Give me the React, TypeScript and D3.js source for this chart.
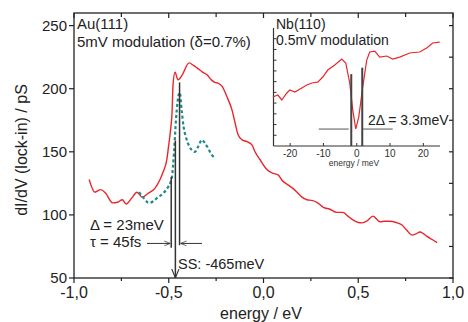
import * as d3 from "d3";

// main spectrum, Au(111), 5mV modulation
const auEnergy = [-0.92, -0.89, -0.86, -0.835, -0.795, -0.77, -0.745, -0.725, -0.695, -0.668, -0.64, -0.61, -0.573, -0.546, -0.53, -0.51, -0.503, -0.49, -0.483, -0.477, -0.467, -0.451, -0.437, -0.425, -0.393, -0.37, -0.351, -0.32, -0.298, -0.275, -0.256, -0.24, -0.219, -0.193, -0.166, -0.15, -0.134, -0.113, -0.087, -0.061, -0.045, -0.018, 0.018, 0.05, 0.077, 0.1, 0.129, 0.155, 0.177, 0.2, 0.229, 0.255, 0.282, 0.316, 0.35, 0.387, 0.419, 0.445, 0.472, 0.5, 0.519, 0.545, 0.578, 0.615, 0.64, 0.668, 0.7, 0.731, 0.755, 0.784, 0.805, 0.826, 0.845, 0.863, 0.89, 0.916];
const auSignal = [128, 118, 120, 117.5, 109.5, 110, 112, 108.7, 113.5, 118, 114, 117, 121, 128, 134, 144, 152, 168, 180, 204, 213, 207, 209, 212, 220.5, 218.5, 216.5, 213, 211, 207, 205, 204.5, 202, 193.7, 183, 173, 163.5, 159.5, 158, 155.5, 150, 143.7, 136, 133, 131.7, 127, 123.8, 121, 118, 114.5, 112, 111.5, 110, 106, 104.5, 102, 102, 99, 96, 94, 93.7, 95, 99, 94.6, 95, 95, 94, 92, 88, 84, 85, 86.5, 85, 83, 80.5, 78];

// dashed surface-state spectrum
const ssEnergy = [-0.657, -0.63, -0.605, -0.58, -0.557, -0.53, -0.504, -0.49, -0.483, -0.472, -0.462, -0.453, -0.442, -0.432, -0.422, -0.41, -0.39, -0.362, -0.345, -0.325, -0.31, -0.293, -0.275, -0.256];
const ssSignal = [118, 113, 109.5, 111, 114, 117, 122, 126, 130, 150, 175, 190, 197, 183, 170, 162, 154, 150, 154, 159.5, 157, 153, 148, 145];

// inset, Nb(110), arbitrary units
const nbEnergy = [-25.2, -23.7, -22.5, -21, -20.1, -18.6, -16.5, -15, -13.5, -11.7, -10.2, -8.7, -6.6, -4.5, -3.3, -2.1, -1.2, -0.3, 0.6, 1.8, 3, 3.9, 5.4, 6.9, 9, 10.8, 12.9, 15.9, 18.9, 21, 22.8, 24.9];
const nbSignal = [4.57, 4.75, 4.29, 4.94, 5.22, 5.03, 5.41, 5.68, 5.87, 5.96, 6.43, 7.08, 7.55, 8.11, 7.74, 5.87, 3.36, 1.6, 2.7, 5.5, 8.01, 8.76, 8.85, 8.29, 8.39, 8.11, 8.29, 8.67, 8.76, 9.13, 9.6, 9.69];

const xTicks = [-1, -0.5, 0, 0.5, 1];
const xTickLabels = ["-1,0", "-0,5", "0,0", "0,5", "1,0"];
const xMinor = [-0.75, -0.25, 0.25, 0.75];
const yTicks = [50, 100, 150, 200, 250];
const yRightTicks = [50, 75, 100, 125, 150, 175, 200, 225, 250];
const insetXTicks = [-20, -10, 0, 10, 20];
const insetYTicks = [1, 2, 3, 4, 5, 6, 7, 8, 9, 10];

// marker lines: [energy, top value, bottom value]
const gapLines: [number, number, number][] = [
  [-0.487, 130, 74],
  [-0.443, 205, 76],
];
const ssLine: [number, number] = [-0.465, 159];
const nbGap = [-1.65, 1.65];
const nbGapTop = [6.7, 7.3];

const FONT = "'Liberation Sans', Arial, sans-serif";
const RED = "#e8262c";
const TEAL = "#1d8a88";

export default function App() {
  const x = d3.scaleLinear().domain([-1, 1]).range([74, 453]);
  const y = d3.scaleLinear().domain([50, 260]).range([278, 13]);
  const ix = d3.scaleLinear().domain([-25, 25]).range([273.5, 440]);
  const iy = d3.scaleLinear().domain([0, 11]).range([146, 28]);

  const mainLine = d3
    .line<number>()
    .x((d) => x(d))
    .curve(d3.curveMonotoneX);
  const auPath = mainLine.y((_, i) => y(auSignal[i]))(auEnergy) ?? "";
  const ssPath = d3
    .line<number>()
    .x((d) => x(d))
    .y((_, i) => y(ssSignal[i]))
    .curve(d3.curveMonotoneX)(ssEnergy) ?? "";
  const nbPath = d3
    .line<number>()
    .x((d) => ix(d))
    .y((_, i) => iy(nbSignal[i]))(nbEnergy) ?? "";

  const arrowY = y(77.4);
  const nbArrowY = iy(1.58);

  return (
    <svg
      width={468}
      height={322}
      style={{ position: "absolute", left: 0, top: 0, background: "#fff" }}
      fontFamily={FONT}
    >
      <defs>
        <marker id="ah" viewBox="0 0 10 10" refX="10" refY="5" markerWidth="6" markerHeight="6" orient="auto-start-reverse">
          <path d="M0,1 L10,5 L0,9" fill="none" stroke="#333" strokeWidth="1.2" />
        </marker>
      </defs>

      {/* frame */}
      <rect x={74} y={13} width={379} height={265} fill="none" stroke="#222" strokeWidth={1.3} />

      {/* left ticks + labels */}
      {yTicks.map((t) => (
        <g key={"yl" + t}>
          <line x1={69} x2={74} y1={y(t)} y2={y(t)} stroke="#222" strokeWidth={1.2} />
          <text x={67} y={y(t)} dy="0.36em" textAnchor="end" fontSize={15} fill="#222">
            {t}
          </text>
        </g>
      ))}
      {/* right ticks */}
      {yRightTicks.map((t) => (
        <line key={"yr" + t} x1={449} x2={453} y1={y(t)} y2={y(t)} stroke="#222" strokeWidth={1.2} />
      ))}
      {/* bottom / top ticks */}
      {xTicks.map((t, i) => (
        <g key={"x" + t}>
          <line x1={x(t)} x2={x(t)} y1={278} y2={283} stroke="#222" strokeWidth={1.2} />
          <line x1={x(t)} x2={x(t)} y1={13} y2={18} stroke="#222" strokeWidth={1.2} />
          <text x={x(t)} y={298} textAnchor="middle" fontSize={16} fill="#222">
            {xTickLabels[i]}
          </text>
        </g>
      ))}
      {xMinor.map((t) => (
        <g key={"xm" + t}>
          <line x1={x(t)} x2={x(t)} y1={278} y2={281} stroke="#222" strokeWidth={1.2} />
          <line x1={x(t)} x2={x(t)} y1={13} y2={17} stroke="#222" strokeWidth={1.2} />
        </g>
      ))}

      <text x={261} y={319} textAnchor="middle" fontSize={16} fill="#222">
        energy / eV
      </text>
      <text transform="translate(27,150) rotate(-90)" textAnchor="middle" fontSize={16} fill="#222">
        dI/dV (lock-in) / pS
      </text>

      <text x={77} y={29} fontSize={15} fill="#222">Au(111)</text>
      <text x={77} y={47} fontSize={15} fill="#222">5mV modulation (δ=0.7%)</text>

      {/* spectra */}
      <path d={auPath} fill="none" stroke={RED} strokeWidth={1.4} />
      <path d={ssPath} fill="none" stroke={TEAL} strokeWidth={2.2} strokeDasharray="3 2.5" />

      {/* linewidth markers */}
      {gapLines.map(([e, top, bot]) => (
        <line key={"g" + e} x1={x(e)} x2={x(e)} y1={y(top)} y2={y(bot)} stroke="#333" strokeWidth={1.5} />
      ))}
      <line x1={x(ssLine[0])} x2={x(ssLine[0])} y1={y(ssLine[1])} y2={278} stroke="#333" strokeWidth={1.5} markerEnd="url(#ah)" />
      <line x1={147} x2={x(gapLines[0][0]) - 1} y1={arrowY} y2={arrowY} stroke="#333" strokeWidth={1} markerEnd="url(#ah)" />
      <line x1={202} x2={x(gapLines[1][0]) + 1} y1={arrowY} y2={arrowY} stroke="#333" strokeWidth={1} markerEnd="url(#ah)" />

      <text x={90} y={230} fontSize={15} fill="#222">Δ = 23meV</text>
      <text x={90} y={247} fontSize={15} fill="#222">τ = 45fs</text>
      <text x={178} y={269} fontSize={14.5} fill="#222">SS: -465meV</text>

      {/* inset */}
      <line x1={273.5} x2={273.5} y1={28} y2={146} stroke="#333" strokeWidth={1.2} />
      <line x1={273.5} x2={440} y1={146} y2={146} stroke="#333" strokeWidth={1.2} />
      {insetYTicks.map((t) => (
        <line key={"iy" + t} x1={273.5} x2={276.5} y1={iy(t)} y2={iy(t)} stroke="#333" strokeWidth={1} />
      ))}
      {insetXTicks.map((t) => (
        <g key={"ix" + t}>
          <line x1={ix(t)} x2={ix(t)} y1={146} y2={143} stroke="#333" strokeWidth={1} />
          <text x={ix(t)} y={157} textAnchor="middle" fontSize={10} fill="#333">
            {t}
          </text>
        </g>
      ))}
      <text x={354} y={166} textAnchor="middle" fontSize={8.5} fill="#333">energy / meV</text>

      <path d={nbPath} fill="none" stroke={RED} strokeWidth={1.2} />
      {nbGap.map((e, i) => (
        <line key={"nb" + e} x1={ix(e)} x2={ix(e)} y1={iy(nbGapTop[i])} y2={146} stroke="#444" strokeWidth={2} />
      ))}
      <line x1={ix(-11.4)} x2={ix(-2.4)} y1={nbArrowY} y2={nbArrowY} stroke="#555" strokeWidth={1} />
      <line x1={ix(1.9)} x2={ix(10.8)} y1={nbArrowY} y2={nbArrowY} stroke="#555" strokeWidth={1} />

      <text x={276} y={29} fontSize={14} fill="#222">Nb(110)</text>
      <text x={276} y={45} fontSize={14} fill="#222">0.5mV modulation</text>
      <text x={368} y={125} fontSize={14} fill="#222">2Δ = 3.3meV</text>
    </svg>
  );
}
